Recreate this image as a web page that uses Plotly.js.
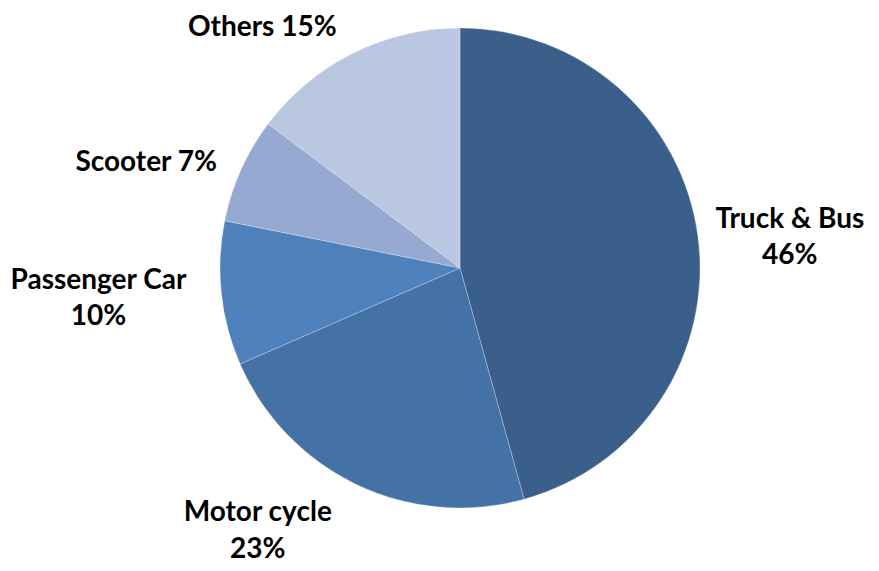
<!DOCTYPE html>
<html>
<head>
<meta charset="utf-8">
<script src="https://cdn.plot.ly/plotly-3.0.1.min.js"></script>
<style>html,body{margin:0;padding:0;background:#fff;}#chart{width:879px;height:571px;}</style>
</head>
<body>
<div id="chart"></div>
<script>
const categories = ['Truck & Bus', 'Motor cycle', 'Passenger Car', 'Scooter', 'Others'];
const shares = [45.7, 22.75, 9.7, 7.1, 14.75];
const labelBreaks = ['<br>', '<br>', '<br>', ' ', ' '];
const sliceColors = ['#3A5F8B', '#4472A6', '#4F81BD', '#95A9D1', '#B9C7E0'];
// which labels sit close to the pie edge (true) or slightly further out (false)
const labelNear = [true, false, false, false, false];

const labelFont = {family: 'Lato, "Open Sans", sans-serif', size: 28, color: '#000000', weight: 'bold'};
const tmpl = '%{label}%{customdata}%{percent:.0%}';

// visible slices (+ near labels)
const slices = {
  type: 'pie',
  labels: categories,
  values: shares,
  customdata: labelBreaks,
  texttemplate: labelNear.map(n => n ? tmpl : ''),
  textposition: 'outside',
  hoverinfo: 'none',
  sort: false,
  direction: 'clockwise',
  rotation: 0,
  marker: {colors: sliceColors, line: {color: 'rgba(255,255,255,0.5)', width: 0.5}},
  textfont: labelFont,
  outsidetextfont: labelFont,
  domain: {x: [0.2503, 0.7964], y: [0.1104, 0.951]},
  automargin: false,
  showlegend: false
};

// same data, slightly larger transparent pie used only to place the far labels
const labelRing = {
  type: 'pie',
  labels: categories,
  values: shares,
  customdata: labelBreaks,
  texttemplate: labelNear.map(n => n ? '' : tmpl),
  textposition: 'outside',
  hoverinfo: 'none',
  sort: false,
  direction: 'clockwise',
  rotation: 0,
  marker: {colors: categories.map(() => 'rgba(0,0,0,0)'), line: {width: 0}},
  textfont: labelFont,
  outsidetextfont: labelFont,
  domain: {x: [0.2309, 0.8157], y: [0.0807, 0.9807]},
  automargin: false,
  showlegend: false
};

const layout = {
  width: 879,
  height: 571,
  margin: {l: 0, r: 0, t: 0, b: 0},
  paper_bgcolor: '#ffffff',
  plot_bgcolor: '#ffffff',
  showlegend: false
};

Plotly.newPlot('chart', [slices, labelRing], layout, {displayModeBar: false, staticPlot: true});
</script>
</body>
</html>
